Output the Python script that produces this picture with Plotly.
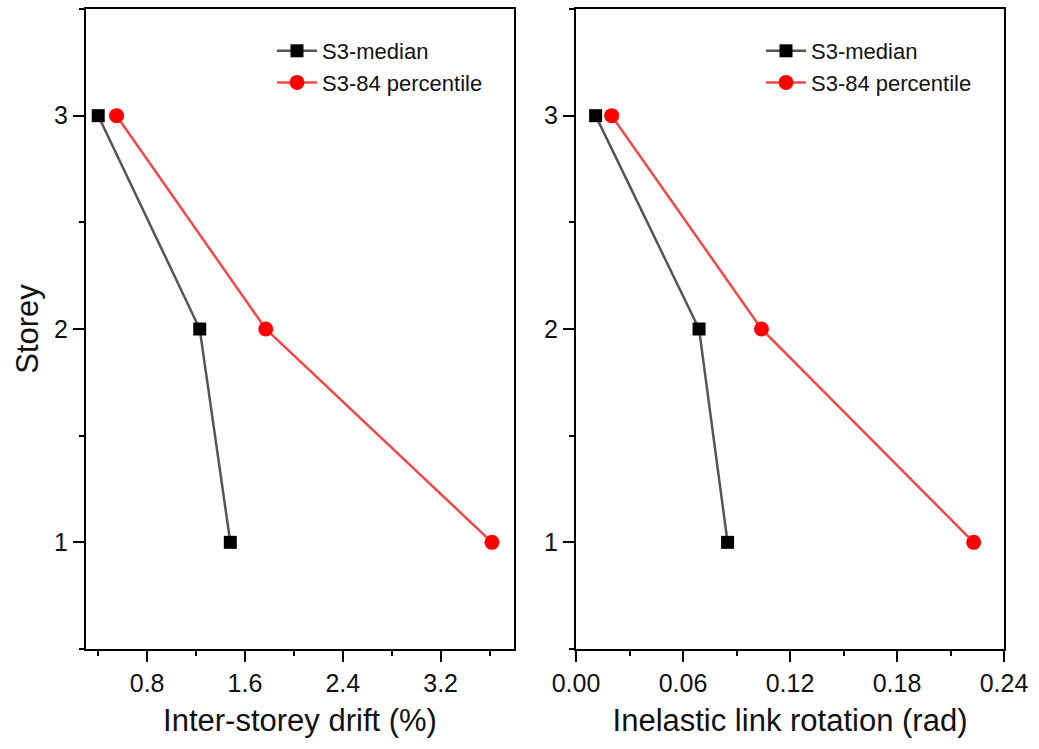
import plotly.graph_objects as go

# Storey levels
storeys = [1, 2, 3]

# Inter-storey drift (%)
drift_median = [1.48, 1.23, 0.40]
drift_p84 = [3.62, 1.77, 0.55]

# Inelastic link rotation (rad)
rot_median = [0.085, 0.069, 0.011]
rot_p84 = [0.223, 0.104, 0.020]

FONT = "Arial, Liberation Sans, sans-serif"
TXT = "#111111"
MED_LINE = "#555555"
MED_MARK = "#000000"
P84_LINE = "#f04848"
P84_MARK = "#ff0000"

fig = go.Figure()


def add_pair(xmed, xp84, xa, ya, legend):
    fig.add_trace(go.Scatter(
        x=xmed, y=storeys, mode="lines+markers", name="S3-median",
        xaxis=xa, yaxis=ya, legend=legend,
        line=dict(color=MED_LINE, width=2.5),
        marker=dict(symbol="square", size=13, color=MED_MARK, line=dict(width=0)),
    ))
    fig.add_trace(go.Scatter(
        x=xp84, y=storeys, mode="lines+markers", name="S3-84 percentile",
        xaxis=xa, yaxis=ya, legend=legend,
        line=dict(color=P84_LINE, width=2.5),
        marker=dict(symbol="circle", size=15, color=P84_MARK, line=dict(width=0)),
    ))


add_pair(drift_median, drift_p84, "x", "y", "legend")
add_pair(rot_median, rot_p84, "x2", "y2", "legend2")

W, H = 1039, 749
ytop, ybot = 9, 649
ydom = [1 - ybot / H, 1 - ytop / H]

axis_common = dict(
    showline=True, linecolor="black", linewidth=2, mirror=True,
    ticks="outside", ticklen=11, tickwidth=1.5, tickcolor="black",
    showgrid=False, zeroline=False, automargin=False,
    tickfont=dict(family=FONT, size=25, color=TXT),
)
minor = dict(ticks="outside", ticklen=5, tickwidth=1.5, tickcolor="black", showgrid=False)
title_font = dict(family=FONT, size=31, color=TXT)
legend_common = dict(
    xanchor="left", yanchor="top", y=1 - 30 / H,
    bgcolor="rgba(0,0,0,0)", borderwidth=0,
    font=dict(family=FONT, size=22, color=TXT),
    tracegroupgap=0, itemwidth=40,
)

fig.update_layout(
    width=W, height=H,
    margin=dict(l=0, r=0, t=0, b=0),
    paper_bgcolor="white", plot_bgcolor="white",
    font=dict(family=FONT, color=TXT),
    xaxis=dict(
        domain=[86 / W, 514 / W], anchor="y",
        range=[0.3, 3.8], tick0=0, dtick=0.8,
        minor=dict(dtick=0.4, tick0=0, **minor),
        title=dict(text="Inter-storey drift (%)", standoff=13, font=title_font),
        **axis_common,
    ),
    yaxis=dict(
        domain=ydom, anchor="x",
        range=[0.5, 3.5], tick0=0, dtick=1,
        minor=dict(dtick=0.5, tick0=0, **minor),
        title=dict(text="Storey", standoff=6, font=title_font),
        **axis_common,
    ),
    xaxis2=dict(
        domain=[576 / W, 1004 / W], anchor="y2",
        range=[0, 0.24], tick0=0, dtick=0.06, tickformat=".2f",
        minor=dict(dtick=0.03, tick0=0, **minor),
        title=dict(text="Inelastic link rotation (rad)", standoff=13, font=title_font),
        **axis_common,
    ),
    yaxis2=dict(
        domain=ydom, anchor="x2",
        range=[0.5, 3.5], tick0=0, dtick=1,
        minor=dict(dtick=0.5, tick0=0, **minor),
        **axis_common,
    ),
    legend=dict(x=272 / W, **legend_common),
    legend2=dict(x=761 / W, **legend_common),
)

fig.write_html("out.html")
